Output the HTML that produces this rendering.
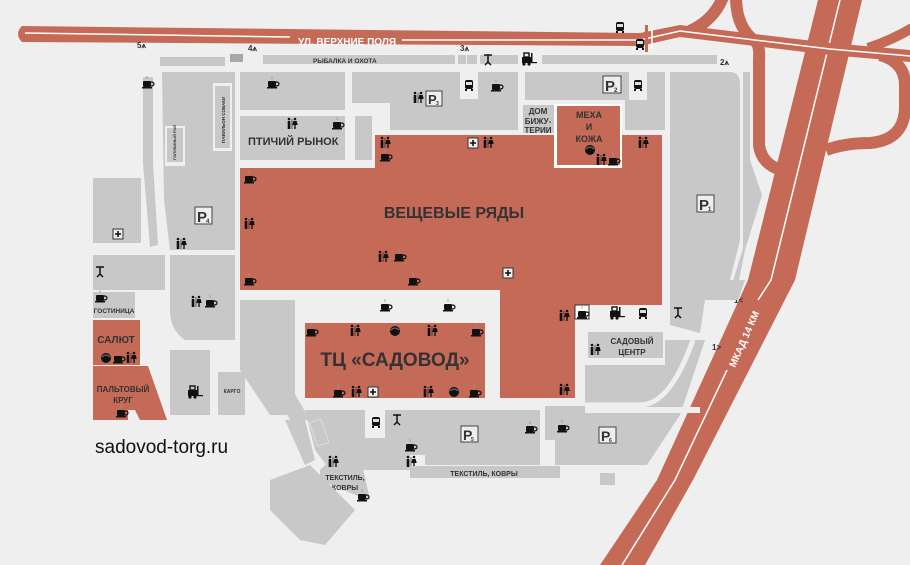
<!DOCTYPE html>
<html><head><meta charset="utf-8"><style>
html,body{margin:0;padding:0;background:#efefef}
svg{display:block}
text{font-family:"Liberation Sans",sans-serif;font-weight:bold;fill:#333}
</style></head><body>
<svg width="910" height="565" viewBox="0 0 910 565" xmlns="http://www.w3.org/2000/svg">
<defs>
<g id="cup"><rect x="-4" y="-2" width="8" height="6" rx="1" fill="#111"/><rect x="-5" y="4" width="10" height="1.5" fill="#111"/><path d="M4 -1 q3 0 3 2 q0 2 -3 2" stroke="#111" fill="none" stroke-width="1.2"/><path d="M0 -4 v-3" stroke="#999" stroke-width="0.8"/></g>
<g id="wc"><circle cx="-3" cy="-5" r="1.3" fill="#111"/><rect x="-4.3" y="-3" width="2.6" height="8" fill="#111"/><circle cx="3" cy="-5" r="1.3" fill="#111"/><path d="M1.3 -3 h3.4 l1 4 h-2 v4 h-1.4 v-4 h-2z" fill="#111"/><rect x="-0.3" y="-5" width="0.6" height="10" fill="#111"/></g>
<g id="bus"><rect x="-4" y="-5" width="8" height="9" rx="2" fill="#111"/><rect x="-3" y="-3" width="6" height="3" fill="#ddd"/><rect x="-4" y="4" width="2" height="2" fill="#111"/><rect x="2" y="4" width="2" height="2" fill="#111"/></g>
<g id="plus"><rect x="-5" y="-5" width="10" height="10" fill="#eee" stroke="#333"/><path d="M-3 0h6M0 -3v6" stroke="#111" stroke-width="1.6"/></g>
<g id="fork"><rect x="-7" y="-2" width="9" height="6" fill="#111"/><rect x="-5" y="-6" width="5" height="4" fill="none" stroke="#111" stroke-width="1.4"/><rect x="2" y="-6" width="1.5" height="10" fill="#111"/><rect x="2" y="3" width="6" height="1.2" fill="#111"/><circle cx="-5" cy="5" r="1.6" fill="#111"/><circle cx="0" cy="5" r="1.6" fill="#111"/></g>
<g id="ball"><circle r="5" fill="#111"/><path d="M-4 -1 q4 -4 8 0" stroke="#777" fill="none"/></g>
<g id="tool"><path d="M-4 -5h8M0 -5v7M-3 5l3 -3l3 3" stroke="#111" stroke-width="1.5" fill="none"/></g>
</defs>

<!-- interchange ramps -->
<g fill="none" stroke="#c46a57">
<path d="M690 31 Q714 20 723 -3" stroke-width="12"/>
<path d="M736 -3 Q736 28 756 42 Q760 46 759 60 L759 145 Q762 168 790 172" stroke-width="12"/>
<path d="M826 150 Q845 143 870 143 Q904 140 905 108 L905 85 Q905 62 880 55" stroke-width="12"/>
<path d="M868 48 Q892 40 912 28" stroke-width="10"/>
</g>
<!-- MKAD -->
<path d="M818 0 L862 0 L795 280 L693 480 L645 565 L600 565 L657 480 L748 280Z" fill="#c46a57"/>
<path d="M840 0 L771 280 L758 300 M727 370 L675 480 L622 565" stroke="#fff" stroke-width="1.5" fill="none"/>
<text x="0" y="0" font-size="10" style="fill:#fff" transform="translate(735,368) rotate(-66)">МКАД 14 КМ</text>
<!-- top road -->
<path d="M22 26 L640 33 L680 25 L830 43 L910 50 L910 62 L830 55 L680 37 L640 46 L22 42 Q14 34 22 26Z" fill="#c46a57"/>
<path d="M25 33 L290 37 M402 40 L640 40 L680 31 L830 49 L910 56" stroke="#fff" stroke-width="1.5" fill="none"/>
<rect x="645" y="25" width="3" height="27" fill="#c46a57"/>
<path d="M652 29v20" stroke="#fff" stroke-width="1.5"/>
<text x="298" y="45" font-size="10" style="fill:#fff">УЛ. ВЕРХНИЕ ПОЛЯ</text>

<!-- top strips -->
<rect x="160" y="57" width="65" height="9" fill="#c8c8c8"/>
<rect x="230" y="54" width="13" height="8" fill="#a8a8a8"/>
<rect x="263" y="55" width="192" height="9" fill="#c8c8c8"/>
<text x="313" y="63" font-size="6.5">РЫБАЛКА И ОХОТА</text>
<rect x="458" y="55" width="8" height="9" fill="#c8c8c8"/><rect x="467" y="55" width="10" height="9" fill="#c8c8c8"/>
<rect x="480" y="55" width="38" height="9" fill="#c8c8c8"/>
<rect x="542" y="55" width="175" height="9" fill="#c8c8c8"/>
<use href="#tool" x="488" y="60"/><use href="#fork" x="529" y="59"/>
<text x="137" y="48" font-size="8" font-weight="normal">5⩚</text>
<text x="248" y="51" font-size="8" font-weight="normal">4⩚</text>
<text x="460" y="51" font-size="8" font-weight="normal">3⩚</text>
<text x="720" y="65" font-size="8" font-weight="normal">2⩚</text>
<text x="734" y="303" font-size="8" font-weight="normal">1&lt;</text>
<text x="712" y="350" font-size="8" font-weight="normal">1&gt;</text>
<use href="#bus" x="620" y="27"/><use href="#bus" x="640" y="44"/>

<!-- left column -->
<rect x="143" y="77" width="10" height="86" fill="#c8c8c8"/>
<path d="M143 163 L153 163 L158 245 L150 247Z" fill="#c8c8c8"/>
<path d="M162 72 H235 V250 H170 L164 200 Z" fill="#c8c8c8"/>
<rect x="165" y="126" width="20" height="40" fill="#efefef"/><rect x="167" y="128" width="16" height="34" fill="#c8c8c8"/>
<rect x="213" y="83" width="19" height="68" fill="#efefef"/><rect x="215" y="86" width="15" height="62" fill="#c8c8c8"/>
<text font-size="4.5" transform="translate(225,143) rotate(-90)">ПАВИЛЬОН СОБАКИ</text>
<text font-size="4" transform="translate(176,160) rotate(-90)">ГОЛУБИНЫЙ РАЙ</text>
<rect x="195" y="207" width="17" height="17" fill="#eee" stroke="#444"/><text x="197" y="222" font-size="15">P</text><text x="206" y="223" font-size="6">4</text>
<use href="#wc" x="181" y="244"/><use href="#cup" x="147" y="83"/>
<rect x="93" y="178" width="48" height="65" fill="#c8c8c8"/><use href="#plus" x="118" y="234"/>
<rect x="93" y="255" width="72" height="35" fill="#c8c8c8"/><use href="#tool" x="100" y="272"/>
<path d="M170 255 H235 V340 H185 Q170 330 170 310Z" fill="#c8c8c8"/>
<use href="#wc" x="196" y="302"/><use href="#cup" x="210" y="302"/>

<!-- top middle blocks -->
<rect x="240" y="72" width="105" height="38" fill="#c8c8c8"/><use href="#cup" x="272" y="83"/>
<rect x="240" y="116" width="105" height="44" fill="#c8c8c8"/>
<text x="248" y="145" font-size="11">ПТИЧИЙ РЫНОК</text><use href="#wc" x="292" y="124"/><use href="#cup" x="337" y="124"/>
<path d="M352 72 H455 V130 H390 V103 H352Z" fill="#c8c8c8"/>
<rect x="355" y="116" width="17" height="44" fill="#c8c8c8"/>
<use href="#wc" x="418" y="98"/>
<rect x="426" y="91" width="16" height="15" fill="#eee" stroke="#444"/><text x="428" y="104" font-size="13">P</text><text x="436" y="105" font-size="5">3</text>
<rect x="455" y="72" width="63" height="58" fill="#c8c8c8"/><rect x="460" y="72" width="18" height="27" fill="#efefef"/>
<use href="#bus" x="469" y="85"/><use href="#cup" x="496" y="86"/>
<path d="M525 72 H665 V130 H625 V100 H525Z" fill="#c8c8c8"/><rect x="629" y="72" width="18" height="28" fill="#efefef"/>
<use href="#bus" x="638" y="85"/>
<rect x="603" y="76" width="18" height="17" fill="#eee" stroke="#444"/><text x="605" y="91" font-size="15">P</text><text x="614" y="92" font-size="6">2</text>
<rect x="523" y="105" width="31" height="28" fill="#c8c8c8"/>
<text x="538" y="114" font-size="8" text-anchor="middle">ДОМ</text><text x="538" y="124" font-size="8" text-anchor="middle">БИЖУ-</text><text x="538" y="133" font-size="8" text-anchor="middle">ТЕРИИ</text>

<!-- P1 -->
<path d="M670 72 H730 Q740 72 740 85 V240 L725 300 H670Z" fill="#c8c8c8"/>
<path d="M743 72 H750 V160 L762 195 L745 250 L735 300 L728 298 L743 248Z" fill="#c8c8c8"/>
<rect x="697" y="195" width="17" height="17" fill="#eee" stroke="#444"/><text x="699" y="210" font-size="15">P</text><text x="708" y="211" font-size="6">1</text>
<path d="M670 292 L705 300 L700 333 L670 325Z" fill="#c8c8c8"/>
<path d="M715 280 L745 280 L738 300 L712 300Z" fill="#c8c8c8"/>
<use href="#tool" x="678" y="313"/>

<!-- Вещевые ряды -->
<path d="M240 168 H375 V135 H555 V168 H620 V135 H662 V305 H575 V398 H500 V290 H240Z" fill="#c46a57"/>
<rect x="554" y="104" width="68" height="64" fill="#fff"/><rect x="557" y="106" width="63" height="59" fill="#c46a57"/>
<text x="589" y="118" font-size="9" text-anchor="middle">МЕХА</text><text x="589" y="130" font-size="9" text-anchor="middle">И</text><text x="589" y="142" font-size="9" text-anchor="middle">КОЖА</text>
<use href="#ball" x="590" y="150"/><use href="#wc" x="601" y="160"/><use href="#cup" x="613" y="160"/>
<text x="454" y="218" font-size="16" text-anchor="middle">ВЕЩЕВЫЕ РЯДЫ</text>
<use href="#plus" x="473" y="143"/><use href="#wc" x="488" y="143"/><use href="#wc" x="643" y="143"/>
<use href="#wc" x="385" y="143"/><use href="#cup" x="385" y="156"/><use href="#cup" x="249" y="178"/>
<use href="#wc" x="249" y="224"/><use href="#wc" x="383" y="257"/><use href="#cup" x="399" y="256"/>
<use href="#cup" x="249" y="280"/><use href="#cup" x="413" y="280"/><use href="#plus" x="508" y="273"/>
<use href="#wc" x="564" y="316"/><use href="#wc" x="564" y="390"/>
<rect x="575" y="305" width="14" height="14" fill="#fff" stroke="#333"/><use href="#cup" x="582" y="313"/>
<use href="#fork" x="617" y="313"/><use href="#bus" x="643" y="313"/>
<use href="#cup" x="385" y="306"/><use href="#cup" x="448" y="306"/>
<!-- ТЦ Садовод -->
<rect x="305" y="323" width="180" height="75" fill="#c46a57"/>
<text x="395" y="366" font-size="19" text-anchor="middle">ТЦ «САДОВОД»</text>
<use href="#cup" x="311" y="331"/><use href="#wc" x="355" y="331"/><use href="#ball" x="395" y="331"/><use href="#wc" x="432" y="331"/><use href="#cup" x="476" y="331"/>
<use href="#cup" x="338" y="392"/><use href="#wc" x="356" y="392"/><use href="#plus" x="373" y="392"/><use href="#wc" x="428" y="392"/><use href="#ball" x="454" y="392"/><use href="#cup" x="474" y="392"/>

<!-- садовый центр area -->
<path d="M545 406 H585 V365 H665 V340 H705 L680 415 L647 465 H555 V440 H545Z" fill="#c8c8c8"/>
<path d="M693 340 Q670 405 640 405 H585" stroke="#efefef" stroke-width="5" fill="none"/>
<path d="M585 410 H700" stroke="#efefef" stroke-width="6"/>
<rect x="588" y="332" width="75" height="26" fill="#c8c8c8"/>
<path d="M584 328 H667" stroke="#efefef" stroke-width="3"/>
<text x="632" y="344" font-size="8" text-anchor="middle">САДОВЫЙ</text><text x="632" y="355" font-size="8" text-anchor="middle">ЦЕНТР</text>
<use href="#wc" x="595" y="350"/>
<rect x="600" y="473" width="15" height="12" fill="#c8c8c8"/>

<!-- left lower -->
<rect x="93" y="292" width="42" height="26" fill="#c8c8c8"/><text x="114" y="313" font-size="6.5" text-anchor="middle">ГОСТИНИЦА</text><use href="#cup" x="100" y="297"/>
<rect x="93" y="320" width="47" height="45" fill="#c46a57"/><text x="116" y="343" font-size="10" text-anchor="middle">САЛЮТ</text>
<use href="#ball" x="106" y="358"/><use href="#cup" x="118" y="358"/><use href="#wc" x="131" y="358"/>
<path d="M93 366 H148 L167 420 H140 L135 410 H128 L128 420 H93Z" fill="#c46a57"/>
<text x="123" y="392" font-size="8" text-anchor="middle">ПАЛЬТОВЫЙ</text><text x="123" y="403" font-size="8" text-anchor="middle">КРУГ</text>
<use href="#cup" x="121" y="412"/>
<path d="M170 350 H210 V415 H170Z" fill="#c8c8c8"/><use href="#fork" x="195" y="392"/>
<rect x="218" y="372" width="27" height="43" fill="#c8c8c8"/><text x="232" y="393" font-size="5" text-anchor="middle">КАРГО</text>
<path d="M240 300 H295 V415 H270 L240 370Z" fill="#c8c8c8"/>
<path d="M255 355 L275 360 L310 420 L290 420Z" fill="#c8c8c8"/>
<path d="M285 420 L305 420 L315 460 L305 465Z" fill="#c8c8c8"/>
<text x="95" y="453" font-size="19" style="fill:#111;font-weight:normal">sadovod-torg.ru</text>

<!-- lower blocks -->
<path d="M305 410 H365 V438 H385 V410 H540 V465 H425 V455 H410 V470 H330 L315 450Z" fill="#c8c8c8"/>
<rect x="313" y="420" width="12" height="25" fill="none" stroke="#ddd" transform="rotate(-20 319 432)"/>
<use href="#bus" x="376" y="422"/><use href="#tool" x="397" y="420"/>
<rect x="461" y="426" width="17" height="16" fill="#eee" stroke="#444"/><text x="463" y="440" font-size="14">P</text><text x="471" y="441" font-size="5">5</text>
<use href="#cup" x="530" y="428"/><use href="#cup" x="410" y="446"/><use href="#wc" x="411" y="462"/>
<rect x="410" y="466" width="150" height="12" fill="#c8c8c8"/><text x="484" y="476" font-size="7" text-anchor="middle">ТЕКСТИЛЬ, КОВРЫ</text>
<path d="M320 470 L335 455 H360 L370 500 L355 495 L320 480Z" fill="#c8c8c8"/>
<use href="#wc" x="333" y="462"/><text x="345" y="480" font-size="7" text-anchor="middle">ТЕКСТИЛЬ,</text><text x="345" y="490" font-size="7" text-anchor="middle">КОВРЫ</text><use href="#cup" x="362" y="496"/>
<path d="M270 480 L310 465 L355 510 L325 545 L300 540 L270 510Z" fill="#c8c8c8"/>
<use href="#cup" x="562" y="427"/>
<rect x="599" y="427" width="17" height="16" fill="#eee" stroke="#444"/><text x="601" y="441" font-size="14">P</text><text x="609" y="442" font-size="5">6</text>
</svg>
</body></html>
